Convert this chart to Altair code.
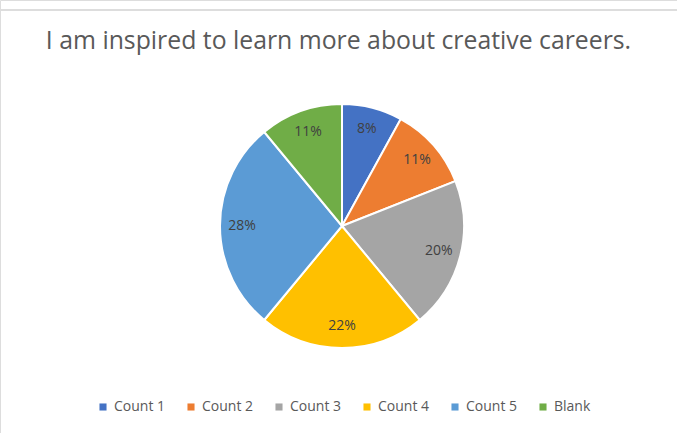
import altair as alt
import pandas as pd

categories = ["Count 1", "Count 2", "Count 3", "Count 4", "Count 5", "Blank"]
values = [8, 11, 20, 22, 28, 11]
colors = ["#4472C4", "#ED7D31", "#A5A5A5", "#FFC000", "#5B9BD5", "#70AD47"]

df = pd.DataFrame({
    "cat": categories,
    "val": values,
    "idx": list(range(len(categories))),
    "label": [f"{v}%" for v in values],
})

FONT = "Open Sans"

base = alt.Chart(df).encode(
    theta=alt.Theta("val:Q", stack=True),
    order=alt.Order("idx:Q"),
)

color = alt.Color(
    "cat:N",
    scale=alt.Scale(domain=categories, range=colors),
    sort=categories,
    legend=alt.Legend(
        title=None,
        orient="none",
        direction="horizontal",
        columns=6,
        legendX=96,
        legendY=400,
        symbolType="square",
        symbolSize=50,
        symbolStrokeWidth=0,
        labelFontSize=14,
        labelFont=FONT,
        labelColor="#595959",
        columnPadding=18,
        symbolOffset=0,
        labelOffset=4,
    ),
)

arcs = base.mark_arc(outerRadius=122, stroke="white", strokeWidth=2).encode(
    color=color,
    x=alt.value(342),
    y=alt.value(226),
)

texts = base.mark_text(radius=100, fontSize=14, font=FONT, color="#404040", fontWeight=500).encode(
    text="label:N",
    x=alt.value(342),
    y=alt.value(226),
)

line = alt.Chart(df).mark_rule(color="#dcdcdc", strokeWidth=1.5).encode(
    x=alt.value(0), x2=alt.value(677), y=alt.value(10)
)

chart = alt.layer(line, arcs, texts).properties(
    width=677,
    height=433,
    padding=0,
    autosize=alt.AutoSizeParams(type="none"),
    title=alt.TitleParams(
        "I am inspired to learn more about creative careers.",
        fontSize=24.8,
        font=FONT,
        fontWeight="normal",
        color="#595959",
        anchor="middle",
        offset=-54,
        orient="top",
    ),
).configure_view(stroke=None).configure(background="white")

chart.save("out.html", embed_options={"renderer": "svg", "actions": False})
